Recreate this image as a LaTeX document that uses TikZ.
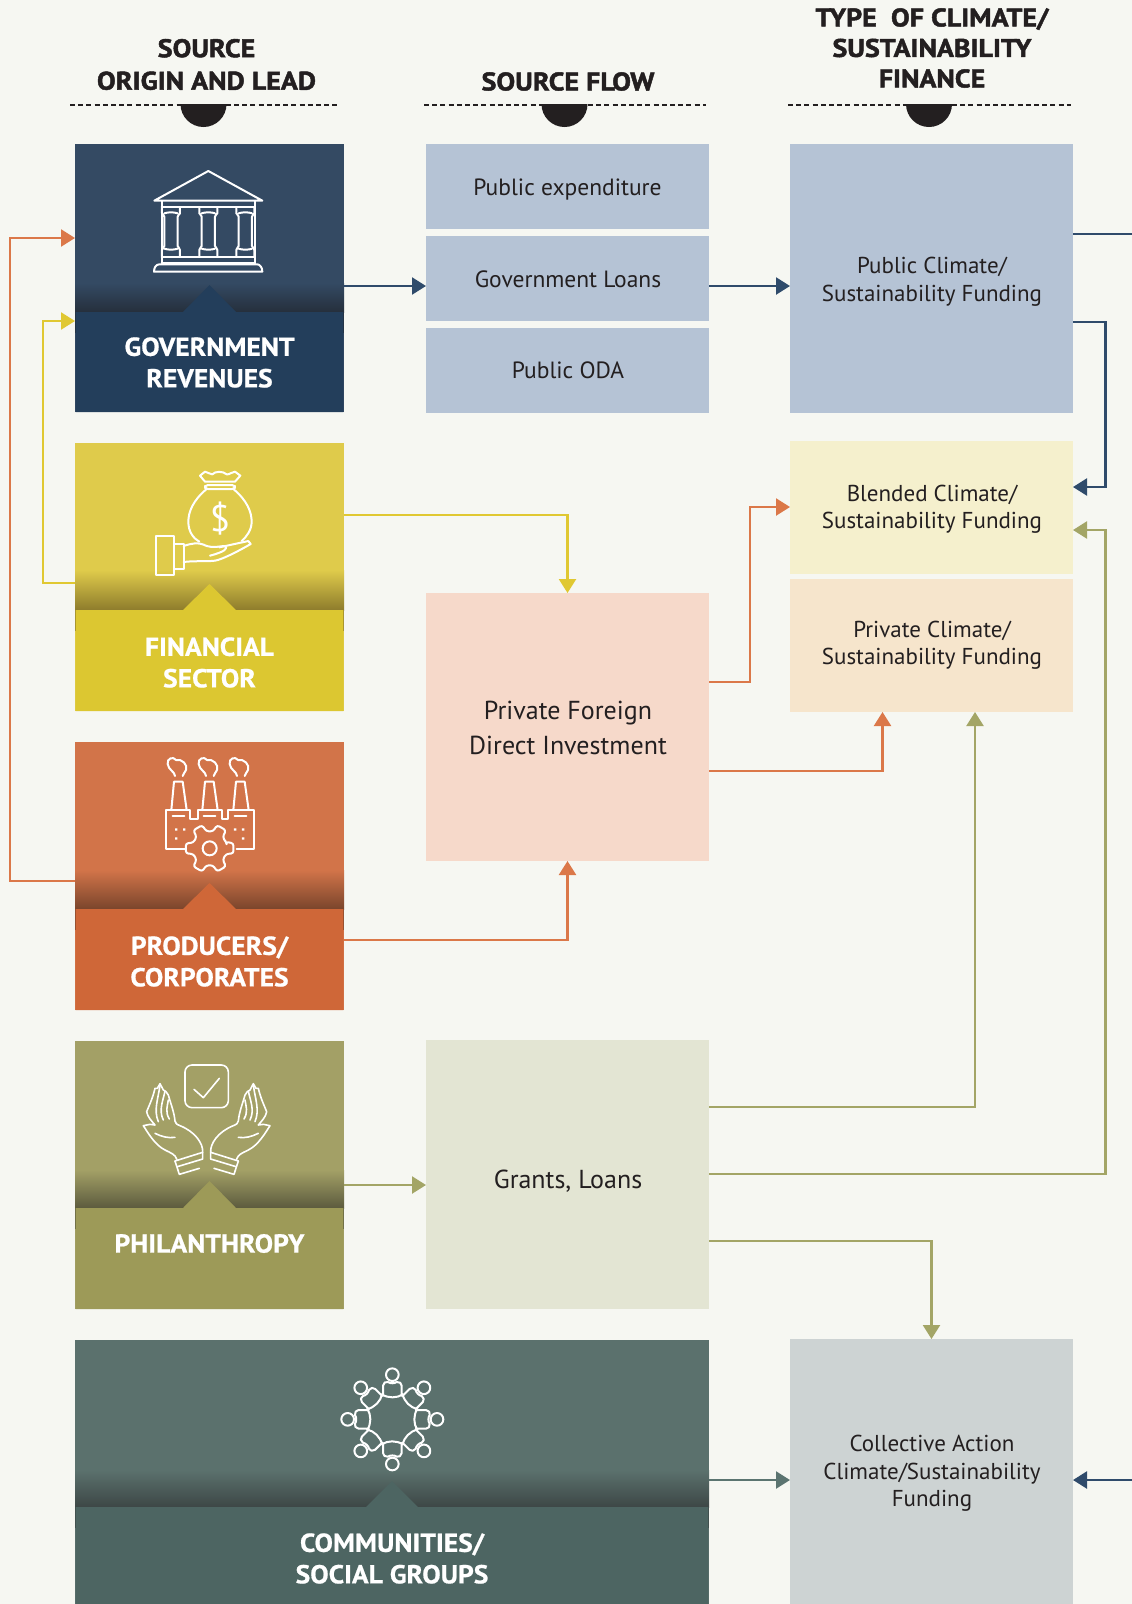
\documentclass[tikz,border=0pt]{standalone}
\usepackage{fontspec}
\setmainfont{PT Sans}
\newfontfamily\hfont{PT Sans}[BoldFeatures={FakeBold=1.8,FakeStretch=1.1}]
\newfontfamily\lfont{PT Sans}[BoldFeatures={FakeBold=0.7,FakeStretch=1.06}]
\usetikzlibrary{arrows.meta}
\definecolor{bgc}{HTML}{F6F7F2}
\definecolor{pubc}{HTML}{B5C3D5}
\definecolor{blendc}{HTML}{F5F0CD}
\definecolor{privc}{HTML}{F6E5CC}
\definecolor{pfdic}{HTML}{F6D9CA}
\definecolor{grantc}{HTML}{E3E5D3}
\definecolor{collc}{HTML}{CDD3D3}
\definecolor{navyL}{HTML}{2F4B6B}
\definecolor{yelL}{HTML}{E0C832}
\definecolor{oraL}{HTML}{DB7849}
\definecolor{oliL}{HTML}{A3A566}
\definecolor{slaL}{HTML}{5B7470}
\definecolor{txt}{HTML}{231F20}
\tikzset{
  flowbox/.style={inner sep=0pt,outer sep=0pt,minimum width=283pt},
  flowtext/.style={inner sep=0pt,align=center,text=txt,font=\fontsize{23.5}{27.5}\selectfont},
  flowbig/.style={inner sep=0pt,align=center,text=txt,font=\fontsize{26}{35}\selectfont},
  sidetext/.style={inner sep=0pt,align=center,text=txt,font=\fontsize{23}{27.5}\selectfont},
  panelbox/.style={inner sep=0pt,outer sep=0pt,minimum width=269pt,minimum height=268pt},
  lab/.style={inner sep=0pt,align=center,text=white,font=\lfont\fontsize{26}{31.5}\selectfont\bfseries},
  hdr/.style={inner sep=0pt,align=center,text=txt,font=\hfont\fontsize{25.5}{32.5}\selectfont\bfseries},
  hdrb/.style={hdr,font=\hfont\fontsize{25.5}{30.5}\selectfont\bfseries},
  conn/.style={line width=2.3pt,-{Triangle[length=14pt,width=17pt]}},
  plainline/.style={line width=2.3pt},
  ico/.style={draw=white,line width=2pt,line join=round,line cap=round},
  icothin/.style={draw=white,line width=1.6pt,line join=round,line cap=round},
  dashrule/.style={draw=txt,line width=2pt,dash pattern=on 5pt off 3.2pt},
}
\newcommand{\panelshape}[9]{%
  \fill[#7] (#1,#3) rectangle (#2,#4);
  \shade[top color=#7,bottom color=#9] (#1,#4) rectangle (#2,#5);
  \fill[#9] (#1,#5) rectangle (#2,#5+21);
}
\begin{document}
\begin{tikzpicture}[x=1pt,y=-1pt]
\useasboundingbox (0,0) rectangle (1132,1604);
\fill[bgc] (0,0) rectangle (1132,1604);

% headers
\node[hdr] (h1) at (206.5,64.5) {SOURCE\\ORIGIN AND LEAD};
\node[hdr] (h2) at (568,81.5) {SOURCE FLOW};
\node[hdrb] (h3) at (932,48) {TYPE\ \ OF CLIMATE/\\SUSTAINABILITY\\FINANCE};
\draw[dashrule] (70,105) -- (338,105);
\draw[dashrule] (424,105) -- (706,105);
\draw[dashrule] (788,105) -- (1071,105);
\fill[txt] (180.5,104) arc[start angle=180,end angle=0,radius=23] -- cycle;
\fill[txt] (541.5,104) arc[start angle=180,end angle=0,radius=23] -- cycle;
\fill[txt] (906,104) arc[start angle=180,end angle=0,radius=23] -- cycle;

% source panels
\definecolor{g1}{HTML}{344A63}\definecolor{g2}{HTML}{233E5B}\definecolor{g3}{HTML}{252F3C}
\definecolor{f1}{HTML}{DFCB4B}\definecolor{f2}{HTML}{DCC731}\definecolor{f3}{HTML}{8E7C2C}
\definecolor{p1}{HTML}{D27449}\definecolor{p2}{HTML}{CF6738}\definecolor{p3}{HTML}{7A452C}
\definecolor{o1}{HTML}{A3A066}\definecolor{o2}{HTML}{9D9A58}\definecolor{o3}{HTML}{5C5B3E}
\definecolor{c1}{HTML}{5B716D}\definecolor{c2}{HTML}{4D6562}\definecolor{c3}{HTML}{3D4746}

\node[panelbox,fill=g1,anchor=north west] (gov) at (75,144) {};
\panelshape{75}{344}{144}{283}{312}{}{g1}{}{g3}
\fill[g2] (75.7,312) -- (183,312) -- (209.5,285) -- (236,312) -- (343.4,312) -- (343.4,412) -- (75.7,412) -- cycle;
\node[lab] (govl) at (209.5,362.5) {GOVERNMENT\\REVENUES};

\node[panelbox,fill=f1,anchor=north west] (fin) at (75,443) {};
\panelshape{75}{344}{443}{570}{610}{}{f1}{}{f3}
\fill[f2] (75.7,610) -- (183,610) -- (209.5,584) -- (236,610) -- (343.4,610) -- (343.4,711) -- (75.7,711) -- cycle;
\node[lab] (finl) at (209.5,662.5) {FINANCIAL\\SECTOR};

\node[panelbox,fill=p1,anchor=north west] (prod) at (75,742) {};
\panelshape{75}{344}{742}{870}{909}{}{p1}{}{p3}
\fill[p2] (75.7,909) -- (183,909) -- (209.5,883) -- (236,909) -- (343.4,909) -- (343.4,1010) -- (75.7,1010) -- cycle;
\node[lab] (prodl) at (209.5,961.5) {PRODUCERS/\\CORPORATES};

\node[panelbox,fill=o1,anchor=north west] (phil) at (75,1041) {};
\panelshape{75}{344}{1041}{1170}{1208}{}{o1}{}{o3}
\fill[o2] (75.7,1208) -- (183,1208) -- (209.5,1181) -- (236,1208) -- (343.4,1208) -- (343.4,1309) -- (75.7,1309) -- cycle;
\node[lab] (phill) at (209.5,1243.5) {PHILANTHROPY};

\node[panelbox,minimum width=634pt,fill=c1,anchor=north west] (comm) at (75,1340) {};
\panelshape{75}{709}{1340}{1470}{1507}{}{c1}{}{c3}
\fill[c2] (75.7,1507) -- (366,1507) -- (392,1481) -- (418,1507) -- (708.4,1507) -- (708.4,1604) -- (75.7,1604) -- cycle;
\node[lab] (comml) at (392,1558.5) {COMMUNITIES/\\SOCIAL GROUPS};

% flow boxes
\node[flowbox,fill=pubc,minimum height=85pt,anchor=north west] (pe) at (426,144) {};
\node[flowbox,fill=pubc,minimum height=85pt,anchor=north west] (gl) at (426,236) {};
\node[flowbox,fill=pubc,minimum height=85pt,anchor=north west] (oda) at (426,328) {};
\node[flowbox,fill=pfdic,minimum height=268pt,anchor=north west] (pfdi) at (426,593) {};
\node[flowbox,fill=grantc,minimum height=269pt,anchor=north west] (gr) at (426,1040) {};
\node[flowbox,fill=pubc,minimum height=269pt,anchor=north west] (pub) at (790,144) {};
\node[flowbox,fill=blendc,minimum height=133pt,anchor=north west] (bl) at (790,441) {};
\node[flowbox,fill=privc,minimum height=133pt,anchor=north west] (pr) at (790,579) {};
\node[flowbox,fill=collc,minimum height=265pt,anchor=north west] (col) at (790,1339) {};

\node[flowtext] (pet) at (567.5,189.5) {Public expenditure};
\node[flowtext] (glt) at (568,279) {Government Loans};
\node[flowtext] (odat) at (568,370.5) {Public ODA};
\node[flowbig] (pfdit) at (568,727.5) {Private Foreign\\Direct Investment};
\node[flowbig] (grt) at (568,1181.5) {Grants, Loans};
\node[sidetext] (pubt) at (932,281.5) {Public Climate/\\Sustainability Funding};
\node[sidetext] (blt) at (932,509) {Blended Climate/\\Sustainability Funding};
\node[sidetext] (prt) at (932,645) {Private Climate/\\Sustainability Funding};
\node[sidetext] (colt) at (932,1473.5) {Collective Action\\Climate/Sustainability\\Funding};

% free connector ends
\coordinate (rightA) at (1132,234);
\coordinate (rightB) at (1132,1480);

% connectors
\draw[conn,navyL] (gov.east |- 0,286) -- (gl.west |- 0,286);
\draw[conn,navyL] (gl.east |- 0,286) -- (pub.west |- 0,286);
\draw[plainline,navyL] (pub.east |- rightA) -- (rightA);
\draw[conn,navyL] (pub.east |- 0,322) -- (1105.5,322) -- (1105.5,487) -- (bl.east |- 0,487);
\draw[conn,navyL] (rightB) -- (col.east |- rightB);
\draw[conn,oraL] (prod.west |- 0,881) -- (10,881) -- (10,238) -- (gov.west |- 0,238);
\draw[conn,yelL] (fin.west |- 0,583) -- (43,583) -- (43,321) -- (gov.west |- 0,321);
\draw[conn,yelL] (fin.east |- 0,515) -- (pfdi.north |- 0,515) -- (pfdi.north);
\draw[conn,oraL] (prod.east |- 0,940) -- (pfdi.south |- 0,940) -- (pfdi.south);
\draw[conn,oraL] (pfdi.east |- 0,682) -- (750,682) -- (750,507) -- (bl.west |- 0,507);
\draw[conn,oraL] (pfdi.east |- 0,771) -- (882.5,771) -- (882.5,712);
\draw[conn,oliL] (phil.east |- 0,1185) -- (gr.west |- 0,1185);
\draw[conn,oliL] (gr.east |- 0,1107) -- (975,1107) -- (975,712);
\draw[conn,oliL] (gr.east |- 0,1174) -- (1105.5,1174) -- (1105.5,530) -- (bl.east |- 0,530);
\draw[conn,oliL] (gr.east |- 0,1241) -- (col.north |- 0,1241) -- (col.north);
\draw[conn,slaL] (comm.east |- rightB) -- (col.west |- rightB);

% bank icon
\begin{scope}[scale=0.33333]
\draw[ico] (463,602) -- (625,513) -- (787,602) -- cycle;
\draw[ico] (485,604) -- (485,790) (765,604) -- (765,790);
\draw[ico] (485,622) -- (765,622);
\draw[ico] (485,770) -- (765,770) (485,790) -- (765,790);
\draw[ico] (462,815) -- (787,815) .. controls (787,803) and (780,793) .. (772,793) -- (478,793) .. controls (468,793) and (462,803) .. (462,815) -- cycle;
\foreach \cx in {513,625,736}{
  \draw[ico] (\cx-27,625) -- (\cx-27,640) .. controls (\cx-27,645) and (\cx-20,642) .. (\cx-20,650) -- (\cx-20,738) .. controls (\cx-20,746) and (\cx-27,740) .. (\cx-27,750) -- (\cx-27,768);
  \draw[ico] (\cx+27,625) -- (\cx+27,640) .. controls (\cx+27,645) and (\cx+20,642) .. (\cx+20,650) -- (\cx+20,738) .. controls (\cx+20,746) and (\cx+27,740) .. (\cx+27,750) -- (\cx+27,768);
  \draw[ico] (\cx-20,640) .. controls (\cx-10,636) and (\cx+10,636) .. (\cx+20,640);
  \draw[ico] (\cx-20,746) .. controls (\cx-10,750) and (\cx+10,750) .. (\cx+20,746);
}
\end{scope}

% money bag icon
\begin{scope}[shift={(60,440)},scale=0.33333]
\draw[ico] (420,107) -- (435,95) .. controls (445,95) and (450,105) .. (457,103) .. controls (465,93) and (490,93) .. (500,103) .. controls (508,105) and (515,95) .. (525,95) -- (541,107) -- (525,125) -- (435,125) -- cycle;
\draw[ico,rounded corners=3pt] (435,135) rectangle (525,147);
\draw[ico] (440,147) .. controls (400,180) and (385,215) .. (385,245) .. controls (385,275) and (400,295) .. (418,305);
\draw[ico] (520,147) .. controls (560,180) and (575,215) .. (575,245) .. controls (575,270) and (560,290) .. (545,303);
\node[text=white,inner sep=0pt,font=\fontsize{37}{37}\selectfont] (dollar) at (480,235) {\$};
\draw[ico] (289,287) rectangle (343,406);
\draw[ico] (343,312) rectangle (371,386);
\draw[ico] (371,318) .. controls (395,310) and (415,305) .. (440,318) .. controls (460,325) and (480,318) .. (495,318) .. controls (505,325) and (495,335) .. (450,347);
\draw[ico] (371,366) .. controls (400,362) and (440,365) .. (465,362) .. controls (490,358) and (550,325) .. (572,312) -- (565,303) -- (478,322);
\end{scope}

% factory icon
\begin{scope}[shift={(60,740)},scale=0.33333]
\draw[ico] (378,326) -- (318,326) -- (318,210) -- (390,210) -- (390,236) -- (415,236) -- (415,210) -- (485,210) -- (485,236) -- (505,236) -- (505,210) -- (582,210) -- (582,326) -- (530,326);
\foreach \dx in {0,93,186}{
  \begin{scope}[xshift=\dx]
  \draw[ico] (334,210) -- (342,125) -- (368,125) -- (380,210);
  \draw[ico] (345,108) .. controls (345,95) and (325,90) .. (323,72) .. controls (320,55) and (340,48) .. (348,60) .. controls (365,55) and (385,75) .. (378,90) .. controls (375,98) and (370,100) .. (368,108);
  \draw[ico] (338,229) -- (373,229);
  \end{scope}
}
\fill[white] (345,265) rectangle (352,272) (369,265) rectangle (376,272) (345,292) rectangle (352,299);
\fill[white] (522,265) rectangle (529,272) (546,265) rectangle (553,272) (546,292) rectangle (553,299);
\begin{scope}[shift={(449,325)}]
\draw[ico,rounded corners=2.5pt] (-22:52) foreach \a in {0,60,...,300}{ -- (\a-12:73) -- (\a+12:73) -- (\a+19:52) -- (\a+41:52)} -- cycle;
\draw[ico] (0,0) circle (21);
\end{scope}
\end{scope}

% hands icon
\begin{scope}[shift={(60,1035)},scale=0.33333]
\draw[icothin,rounded corners=7pt] (375,90) rectangle (505,218);
\draw[icothin] (402,163) -- (430,188) -- (478,130);
\foreach \mir/\sc in {0/1,880/-1}{
\begin{scope}[xshift=\mir,xscale=\sc]
\draw[icothin] (345,378) -- (428,352) .. controls (430,325) and (405,290) .. (360,272) .. controls (350,268) and (346,265) .. (345,258) .. controls (342,230) and (335,215) .. (325,180) -- (318,170) -- (310,165) -- (300,146) -- (292,160) -- (285,160) .. controls (278,190) and (268,210) .. (260,230) .. controls (262,245) and (275,258) .. (285,270) -- (270,268) -- (250,272) .. controls (265,295) and (285,330) .. (315,345) .. controls (335,355) and (345,358) .. (350,372);
\draw[icothin] (300,150) .. controls (295,190) and (280,225) .. (295,260);
\draw[icothin] (315,168) .. controls (310,195) and (295,225) .. (310,255);
\draw[icothin] (325,195) .. controls (322,215) and (315,230) .. (328,252);
\draw[icothin] (285,295) .. controls (305,305) and (325,310) .. (345,307);
\draw[icothin] (345,378) -- (358,418) -- (418,400);
\draw[icothin] (352,395) -- (428,372) -- (428,352);
\end{scope}
}
\end{scope}

% community icon
\begin{scope}[shift={(300,1340)},scale=0.33333]
\foreach \ang in {0,45,...,315}{
\begin{scope}[rotate around={\ang:(277,238)}]
\draw[ico] (277,104) circle (19);
\draw[ico] (245,163) .. controls (265,175) and (290,175) .. (309,163);
\draw[ico] (249,167) -- (249,137) .. controls (249,128) and (258,124) .. (264,126) .. controls (270,131) and (284,131) .. (290,126) .. controls (298,124) and (305,130) .. (305,137) -- (305,167);
\end{scope}
}
\end{scope}
\end{tikzpicture}
\end{document}
